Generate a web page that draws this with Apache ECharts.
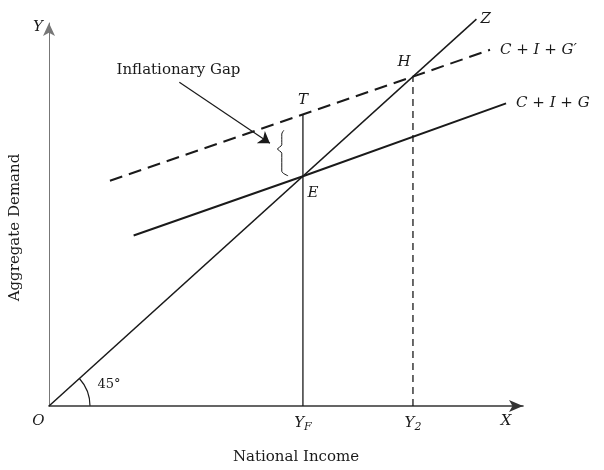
<!DOCTYPE html>
<html>
<head>
<meta charset="utf-8">
<script src="https://cdn.jsdelivr.net/npm/echarts@6/dist/echarts.min.js"></script>
<style>
  html, body { margin: 0; padding: 0; background: #fff; }
  #chart { width: 604px; height: 470px; }
</style>
</head>
<body>
<div id="chart"></div>
<script>
// 45 degree line O-Z (aggregate demand = income)
const zLine = [[0, 0], [101, 101]];
// C + I + G (solid) and C + I + G' (dashed)
const cigLine = [[20, 44.5], [60, 60], [108, 79]];
const cigPrimeLine = [[14.4, 58.8], [86, 86], [104.2, 93]];
// verticals at Y_F and Y_2
const yfLine = [[60, 0], [60, 76.2]];
const y2Line = [[86, 0], [86, 86]];
// curly brace of the gap
const braceLine = [[55.5, 72], [55, 71], [55, 68.2], [54, 67.1], [55, 66], [55, 61.3], [56.5, 60.1]];
// pointer from the "Inflationary Gap" note
const gapArrow = [[30.8, 84.5], [52.2, 68.6]];
// point names
const pointNames = ['E', 'T', 'H'];
const pointValues = [[60, 60], [60, 76.2], [86, 86]];

const serif = '"DejaVu Serif", "Liberation Serif", serif';
const ink = '#1a1a1a';

const chart = echarts.init(document.getElementById('chart'));

function lineSeries(data, opt) {
  return Object.assign({
    type: 'line',
    data: data,
    symbol: 'none',
    silent: true,
    clip: false,
    lineStyle: { color: ink, width: 1.6 }
  }, opt);
}

function endText(text, dist) {
  return {
    show: true,
    formatter: text,
    distance: dist,
    color: ink,
    fontFamily: serif,
    fontStyle: 'italic',
    fontSize: 15
  };
}

chart.setOption({
  animation: false,
  grid: { left: 47, top: 23, width: 476, height: 386 },
  xAxis: {
    type: 'value',
    min: 0,
    max: 112,
    name: 'National Income',
    nameLocation: 'middle',
    nameGap: 44,
    nameTextStyle: { fontFamily: serif, fontSize: 15, color: ink, padding: [0, 0, 0, 20] },
    axisLine: { show: true, symbol: ['none', 'arrow'], symbolSize: [9, 14], lineStyle: { color: '#333', width: 1.6 } },
    axisTick: { show: false },
    axisLabel: { show: false },
    splitLine: { show: false }
  },
  yAxis: {
    type: 'value',
    min: 0,
    max: 100,
    name: 'Aggregate Demand',
    nameLocation: 'middle',
    nameGap: 26,
    nameTextStyle: { fontFamily: serif, fontSize: 15, color: ink, padding: [0, 0, 0, -26] },
    axisLine: { show: true, symbol: ['none', 'arrow'], symbolSize: [9, 13], lineStyle: { color: '#777', width: 1 } },
    axisTick: { show: false },
    axisLabel: { show: false },
    splitLine: { show: false }
  },
  series: [
    lineSeries(zLine, { lineStyle: { color: ink, width: 1.5 }, endLabel: endText('Z', 4) }),
    lineSeries(cigLine, { lineStyle: { color: ink, width: 2 }, endLabel: endText('C + I + G', 10) }),
    lineSeries(cigPrimeLine, { lineStyle: { color: ink, width: 2, type: [13, 7] }, endLabel: endText("C + I + G\u2032", 10) }),
    lineSeries(yfLine, { lineStyle: { color: ink, width: 1.3 } }),
    lineSeries(y2Line, { lineStyle: { color: ink, width: 1.3, type: [7, 5] } }),
    lineSeries(braceLine, { smooth: 0.3, lineStyle: { color: ink, width: 1 } }),
    {
      type: 'lines',
      coordinateSystem: 'cartesian2d',
      silent: true,
      symbol: ['none', 'arrow'],
      symbolSize: [0, 11],
      lineStyle: { color: ink, width: 1.2, opacity: 1 },
      data: [{ coords: gapArrow }]
    },
    {
      type: 'scatter',
      silent: true,
      clip: false,
      symbolSize: 0,
      itemStyle: { opacity: 1 },
      data: pointNames.map((n, i) => ({
        value: pointValues[i],
        label: {
          show: true,
          formatter: n,
          position: n === 'E' ? 'bottom' : 'top',
          offset: n === 'E' ? [10, 4] : (n === 'H' ? [-9, -2] : [0, -2])
        }
      })),
      label: { color: ink, fontFamily: serif, fontStyle: 'italic', fontSize: 15 }
    },
    {
      type: 'scatter',
      silent: true,
      clip: false,
      symbolSize: 0,
      itemStyle: { opacity: 1 },
      data: [
        { value: [60, 0], label: { formatter: '{i|Y}{s|F}' } },
        { value: [86, 0], label: { formatter: '{i|Y}{s|2}' } },
        { value: [108, 0], label: { formatter: '{i|X}' } },
        { value: [-2.5, 0], label: { formatter: '{i|O}' } }
      ],
      label: {
        show: true,
        position: 'bottom',
        distance: 8,
        rich: {
          i: { fontFamily: serif, fontStyle: 'italic', fontSize: 15, color: ink },
          s: { fontFamily: serif, fontStyle: 'italic', fontSize: 11, color: ink, verticalAlign: 'bottom', padding: [8, 0, 0, 0] }
        }
      }
    },
    {
      type: 'scatter',
      silent: true,
      clip: false,
      symbolSize: 0,
      itemStyle: { opacity: 1 },
      data: [
        { value: [-2.6, 99], label: { formatter: 'Y', fontStyle: 'italic' } },
        { value: [30.6, 87.8], label: { formatter: 'Inflationary Gap' } },
        { value: [14.2, 5.6], label: { formatter: '45\u00b0', fontSize: 13 } }
      ],
      label: { show: true, position: 'inside', color: ink, fontFamily: serif, fontSize: 15 }
    }
  ]
});

// 45 degree angle arc at the origin
const o = chart.convertToPixel({ gridIndex: 0 }, [0, 0]);
const z = chart.convertToPixel({ gridIndex: 0 }, zLine[1]);
const ang = Math.atan2(z[1] - o[1], z[0] - o[0]);
chart.setOption({
  graphic: [{
    type: 'arc',
    shape: { cx: o[0], cy: o[1], r: 41, startAngle: ang, endAngle: 0 },
    style: { stroke: ink, lineWidth: 1.2, fill: null },
    silent: true
  }]
});
</script>
</body>
</html>
